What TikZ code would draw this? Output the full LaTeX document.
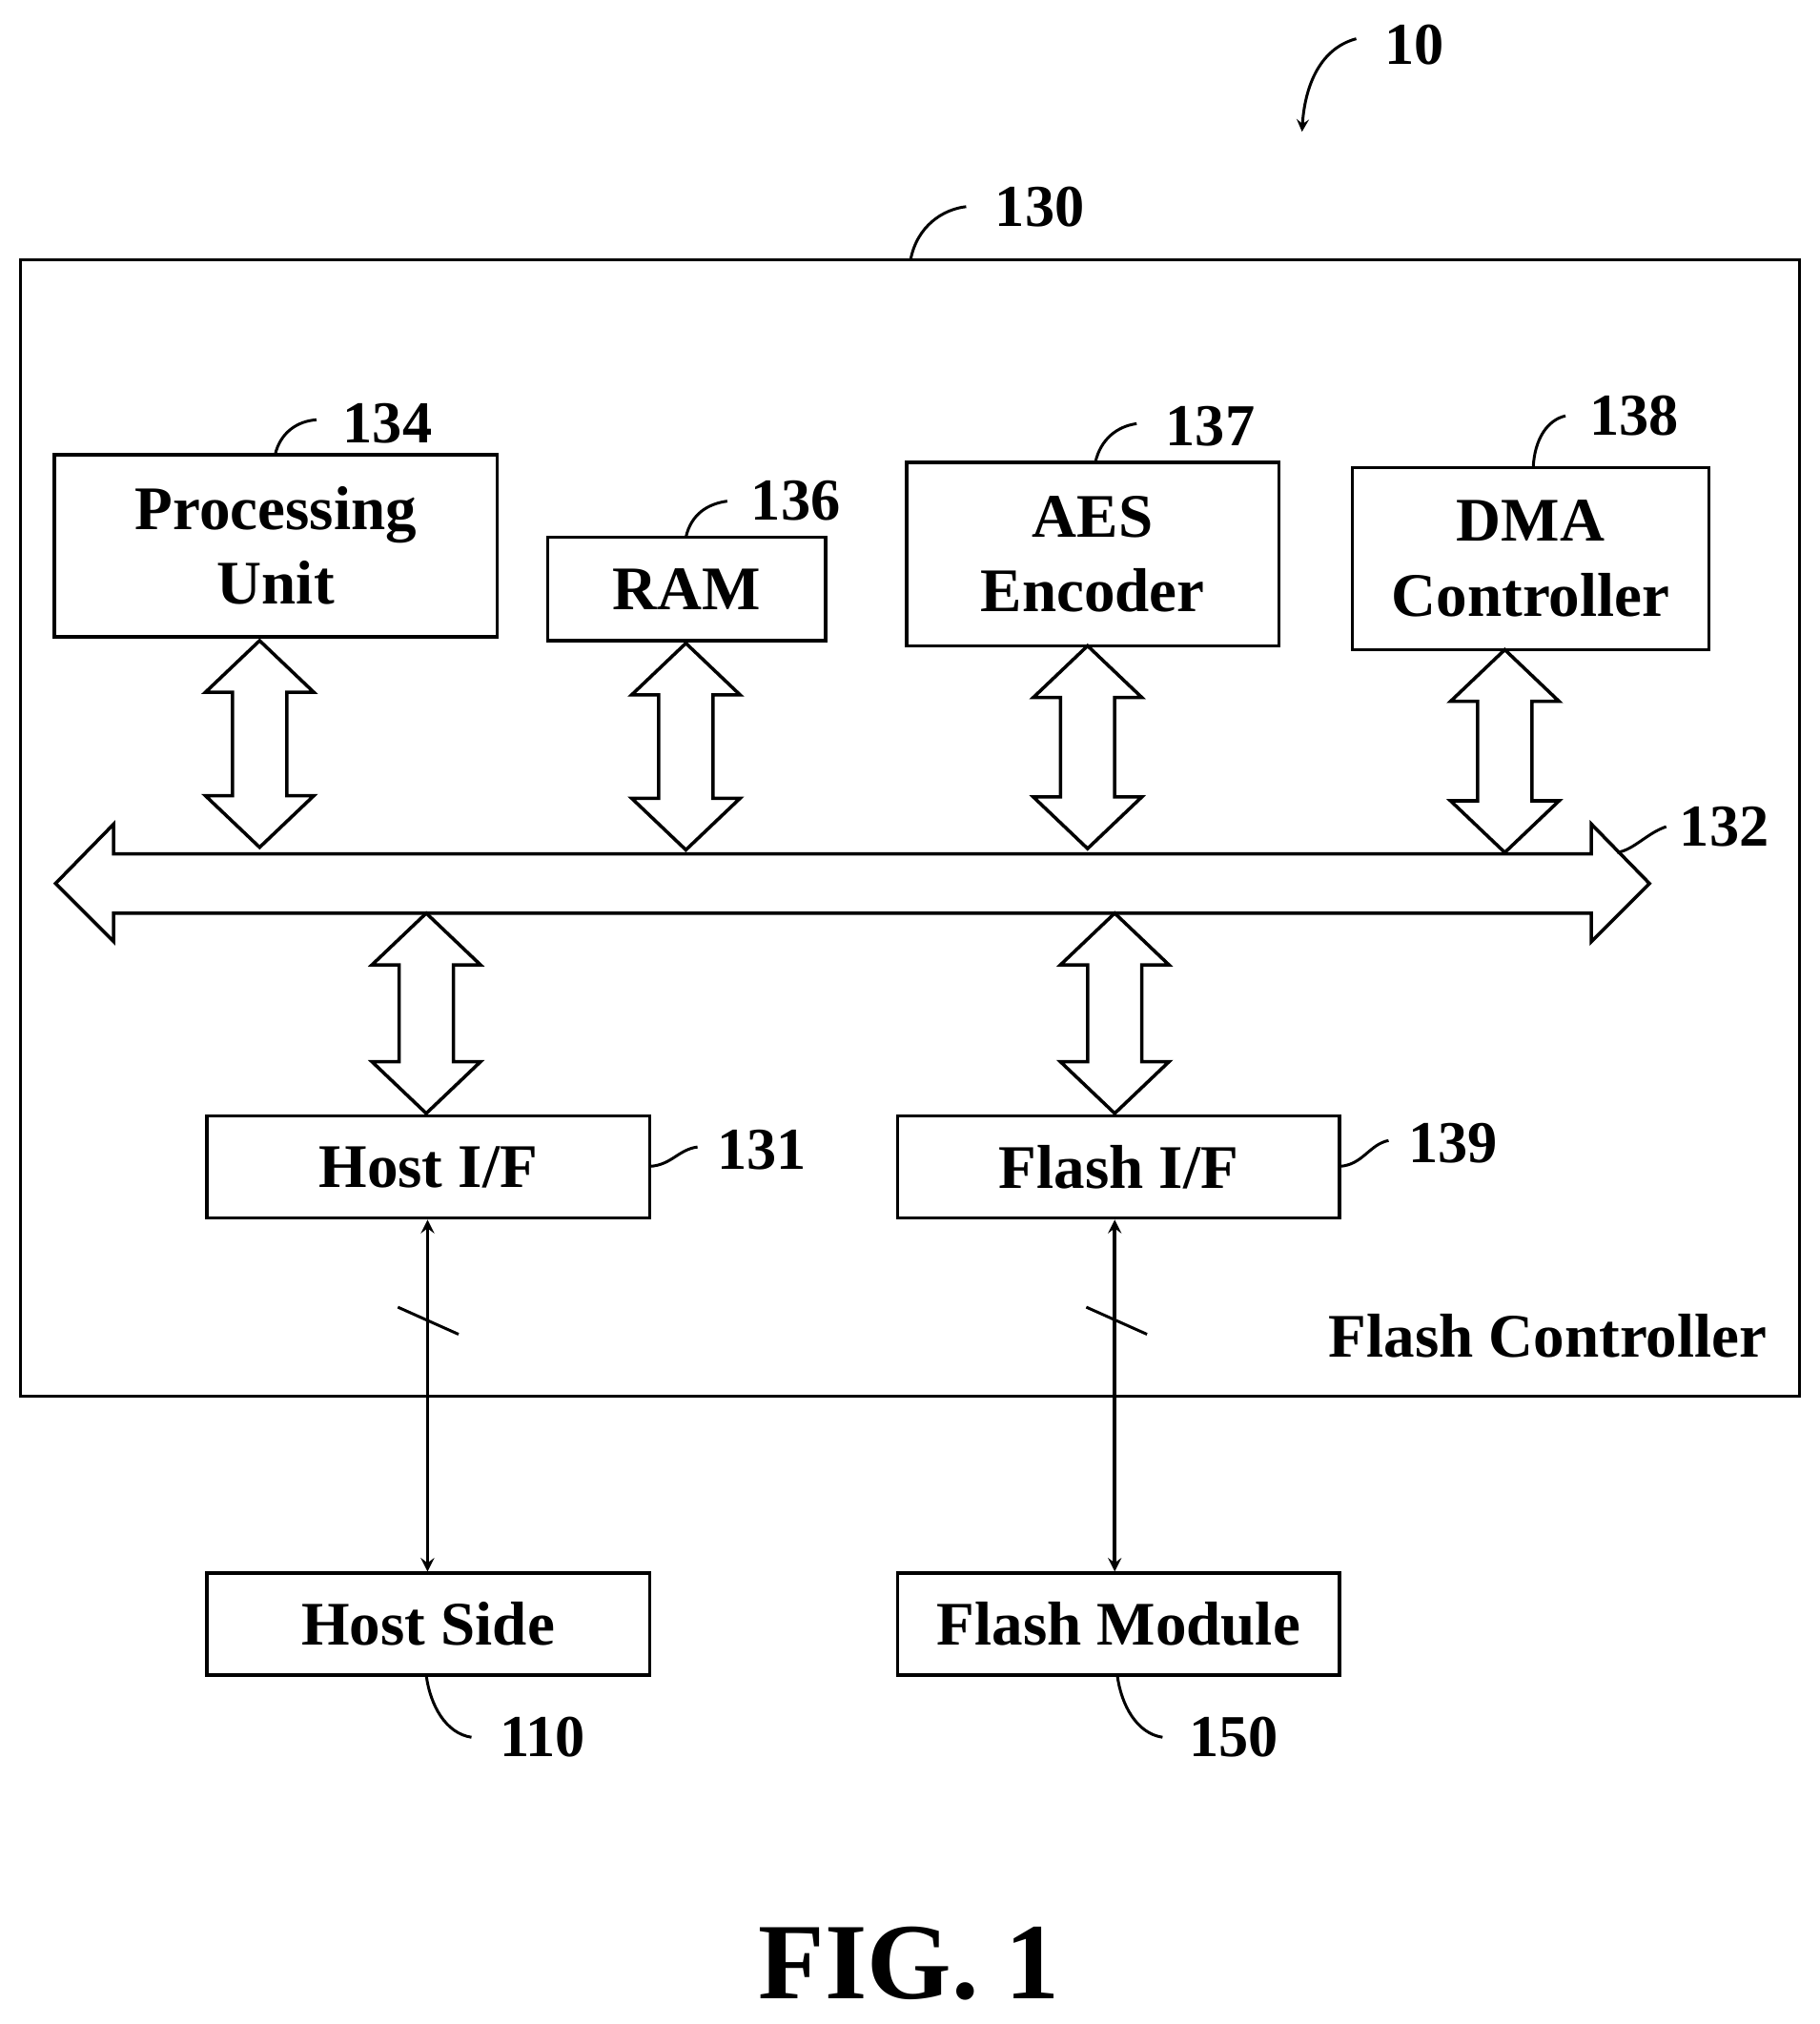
\documentclass[tikz,border=0pt]{standalone}
\usepackage{fontspec}
\setmainfont{Liberation Serif}
\begin{document}
\begin{tikzpicture}[x=0.5pt,y=-0.5pt,
  box/.style={draw,line width=1.3pt,inner sep=0pt},
  lbl/.style={font=\fontsize{24}{29}\selectfont\bfseries,align=center},
  num/.style={font=\fontsize{23}{26}\selectfont\bfseries},
  lead/.style={line width=1.1pt},
  blk/.style={draw,line width=1.3pt,fill=white,line join=miter}]
\useasboundingbox (0,0) rectangle (1409,1567);
\newcommand\vdarr[3]{% x, ytop, ybottom
  \draw[blk] (#1,#2) -- (#1+42,#2+40) -- (#1+21,#2+40) -- (#1+21,#3-40) -- (#1+42,#3-40) -- (#1,#3)
   -- (#1-42,#3-40) -- (#1-21,#3-40) -- (#1-21,#2+40) -- (#1-42,#2+40) -- cycle;}
% outer box
\node[box,minimum width=0.5*1377pt,minimum height=0.5*880pt] (fc) at (704.5,641) {};
\node[num,anchor=south east,font=\fontsize{24}{29}\selectfont\bfseries] (fcl) at (1375,1058) {Flash Controller};
% blocks
\node[box,minimum width=0.5*343pt,minimum height=0.5*141pt,lbl] (pu) at (213.5,422.5) {Processing\\Unit};
\node[box,minimum width=0.5*215pt,minimum height=0.5*80pt,lbl] (ram) at (531.5,456) {RAM};
\node[box,minimum width=0.5*288pt,minimum height=0.5*142pt,lbl] (aes) at (846,429) {AES\\Encoder};
\node[box,minimum width=0.5*276pt,minimum height=0.5*141pt,lbl] (dma) at (1185,432.5) {DMA\\Controller};
\node[box,minimum width=0.5*343pt,minimum height=0.5*79pt,lbl] (hif) at (331.5,903.5) {Host I/F};
\node[box,minimum width=0.5*342pt,minimum height=0.5*79pt,lbl] (fif) at (866,903.5) {Flash I/F};
\node[box,minimum width=0.5*343pt,minimum height=0.5*79pt,lbl] (hs) at (331.5,1257.5) {Host Side};
\node[box,minimum width=0.5*342pt,minimum height=0.5*79pt,lbl] (fm) at (866,1257.5) {Flash Module};
% vertical block arrows
\vdarr{201}{496}{656}
\vdarr{531}{498}{658}
\vdarr{842}{500}{657}
\vdarr{1165}{503}{660}
% bus
\draw[blk] (43,684) -- (88,638) -- (88,661) -- (1232,661) -- (1232,638) -- (1277,684) -- (1232,729) -- (1232,707) -- (88,707) -- (88,729) -- cycle;
\coordinate (bus) at (660,684);
\vdarr{330}{707}{862}
\vdarr{863}{707}{862}
% thin arrows
\draw[line width=1.3pt,<->,>=stealth] (hif.south -| 331,0) -- (hs.north -| 331,0);
\draw[line width=1.3pt,<->,>=stealth] (fif.south -| 863,0) -- (fm.north -| 863,0);
\draw[line width=1.1pt] (308,1012) -- (355,1033);
\draw[line width=1.1pt] (841,1012) -- (888,1033);
% reference numerals
\node[num] (n10) at (1095,35) {10};
\draw[lead,->,>=stealth] (1050,30) .. controls (1020,38) and (1010,70) .. (1008,102);
\node[num] (n130) at (805,160) {130};
\draw[lead] (705,201) .. controls (710,175) and (730,162) .. (748,160);
\node[num] (n134) at (300,328) {134};
\draw[lead] (213,352) .. controls (217,335) and (230,326) .. (245,325);
\node[num] (n136) at (616,388) {136};
\draw[lead] (531,416) .. controls (535,398) and (548,390) .. (563,388);
\node[num] (n137) at (937,330) {137};
\draw[lead] (848,358) .. controls (852,340) and (865,330) .. (880,328);
\node[num] (n138) at (1265,322) {138};
\draw[lead] (1187,362) .. controls (1188,340) and (1198,325) .. (1212,322);
\node[num] (n132) at (1335,640) {132};
\draw[lead] (1252,660) .. controls (1265,658) and (1275,645) .. (1290,640);
\node[num] (n131) at (590,890) {131};
\draw[lead] (503,903) .. controls (520,902) and (525,890) .. (540,888);
\node[num] (n139) at (1125,885) {139};
\draw[lead] (1037,903) .. controls (1055,902) and (1060,886) .. (1075,883);
\node[num] (n110) at (420,1345) {110};
\draw[lead] (330,1297) .. controls (333,1320) and (345,1342) .. (365,1345);
\node[num] (n150) at (955,1345) {150};
\draw[lead] (865,1297) .. controls (868,1320) and (880,1342) .. (900,1345);
\node[font=\fontsize{42}{48}\selectfont\bfseries] (fig) at (704,1520) {FIG. 1};
\end{tikzpicture}
\end{document}
